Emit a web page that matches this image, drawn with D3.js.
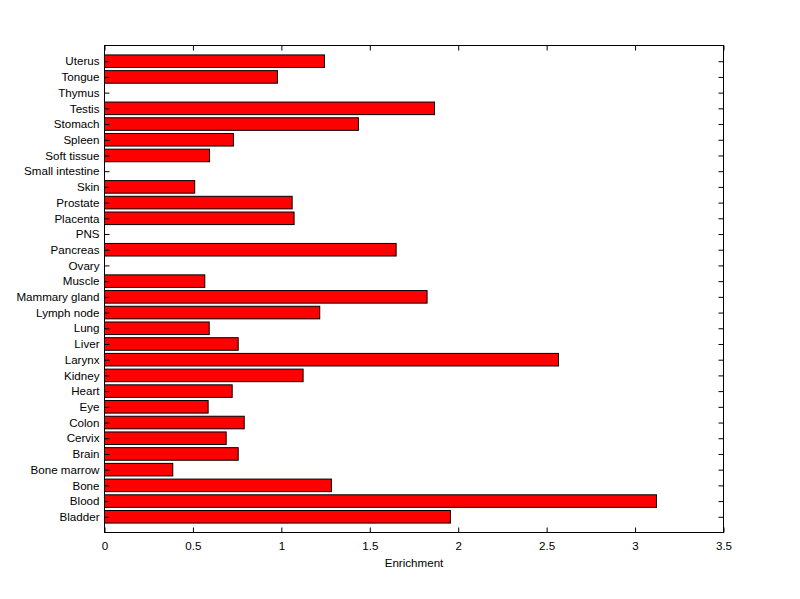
<!DOCTYPE html>
<html><head><meta charset="utf-8">
<script src="https://cdn.jsdelivr.net/npm/d3@7"></script>
<style>body{margin:0;background:#fff;} text{font-family:"Liberation Sans",Arial,sans-serif;font-size:11.6px;fill:#000;}</style>
</head><body>
<svg id="c" width="800" height="599"></svg>
<script>
const categories = ["Bladder","Blood","Bone","Bone marrow","Brain","Cervix","Colon","Eye","Heart","Kidney","Larynx","Liver","Lung","Lymph node","Mammary gland","Muscle","Ovary","Pancreas","PNS","Placenta","Prostate","Skin","Small intestine","Soft tissue","Spleen","Stomach","Testis","Thymus","Tongue","Uterus"];
const values = [1.956,3.121,1.283,0.386,0.756,0.688,0.790,0.586,0.722,1.123,2.567,0.756,0.592,1.217,1.824,0.567,0,1.649,0,1.072,1.061,0.510,0,0.594,0.729,1.436,1.866,0,0.978,1.244];
const xTicks = [0,0.5,1,1.5,2,2.5,3,3.5];
const xLabel = "Enrichment";

const L=104.5, R=723.5, T=45.5, B=532.5;
const svg = d3.select("#c");
const x = d3.scaleLinear().domain([0,3.5]).range([L,R]);
const y = d3.scaleLinear().domain([0,categories.length+1]).range([B,T]);
const bw = (y(0)-y(1))*0.8;

svg.append("g").selectAll("rect").data(values).join("rect")
  .attr("x", x(0)).attr("y",(d,i)=>y(i+1)-bw/2)
  .attr("width",d=>Math.max(0,x(d)-x(0))).attr("height",bw)
  .attr("fill","#ff0000").attr("stroke","#000").attr("stroke-width",1)
  .attr("display",d=>d>0?null:"none");

svg.append("rect").attr("x",L).attr("y",T).attr("width",R-L).attr("height",B-T)
  .attr("fill","none").attr("stroke","#000").attr("stroke-width",1);

const tk=5;
const bx = svg.append("g").attr("transform",`translate(0,${B})`)
  .call(d3.axisBottom(x).tickValues(xTicks).tickFormat(d3.format("")).tickSizeInner(-tk).tickSizeOuter(0).tickPadding(9));
const tx = svg.append("g").attr("transform",`translate(0,${T})`)
  .call(d3.axisTop(x).tickValues(xTicks).tickFormat("").tickSizeInner(-tk).tickSizeOuter(0));
const ly = svg.append("g").attr("transform",`translate(${L},0)`)
  .call(d3.axisLeft(y).tickValues(d3.range(1,categories.length+1)).tickFormat(d=>categories[d-1]).tickSizeInner(-tk).tickSizeOuter(0).tickPadding(5));
const ry = svg.append("g").attr("transform",`translate(${R},0)`)
  .call(d3.axisRight(y).tickValues(d3.range(1,categories.length+1)).tickFormat("").tickSizeInner(-tk).tickSizeOuter(0));
[bx,tx,ly,ry].forEach(g=>{g.select(".domain").remove();g.selectAll("line").attr("stroke","#000");g.selectAll("text").attr("font-family",null).attr("font-size",null);});

svg.append("text").attr("x",(L+R)/2).attr("y",567).attr("text-anchor","middle").text(xLabel);
</script>
</body></html>
